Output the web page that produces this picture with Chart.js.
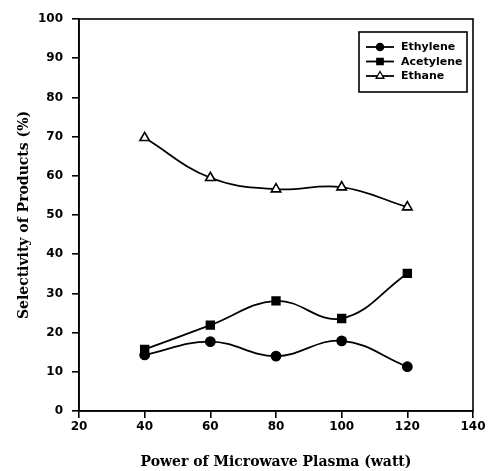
<!DOCTYPE html>
<html>
<head>
<meta charset="utf-8">
<script src="https://cdn.jsdelivr.net/npm/chart.js@4/dist/chart.umd.min.js"></script>
<style>
  html, body { margin: 0; padding: 0; background: #fff; }
  #wrap { width: 488px; height: 471px; }
</style>
</head>
<body>
<div id="wrap"><canvas id="c" width="488" height="471"></canvas></div>
<script>
// Microwave plasma power (watt)
const power = [40, 60, 80, 100, 120];
// Product selectivity (%)
const ethylene  = [14.3, 17.7, 14.0, 17.9, 11.3];
const acetylene = [15.7, 21.9, 28.1, 23.6, 35.1];
const ethane    = [69.7, 59.5, 56.6, 57.1, 52.0];
const seriesNames = ['Ethylene', 'Acetylene', 'Ethane'];
const xTicks = [20, 40, 60, 80, 100, 120, 140];
const yTicks = [0, 10, 20, 30, 40, 50, 60, 70, 80, 90, 100];

const tickFont = { family: 'DejaVu Sans', weight: 'bold', size: 12 };
const titleFont = { family: 'DejaVu Serif', weight: 'bold', size: 14 };

function pts(values) {
  return power.map((p, i) => ({ x: p, y: values[i] }));
}

function series(label, values, style, fill, radius) {
  return {
    label: label,
    data: pts(values),
    borderColor: '#000',
    borderWidth: 1.8,
    tension: 0.4,
    pointStyle: style,
    pointRadius: radius,
    pointBackgroundColor: fill,
    pointBorderColor: '#000',
    pointBorderWidth: 1.6,
    fill: false
  };
}

// Frame around the plotting region
const framePlugin = {
  id: 'frame',
  afterDraw(chart) {
    const { ctx, chartArea: a } = chart;
    ctx.save();
    ctx.strokeStyle = '#000';
    ctx.lineWidth = 1.6;
    ctx.strokeRect(a.left, a.top, a.right - a.left, a.bottom - a.top);
    ctx.restore();
  }
};

// Boxed legend in the upper right corner, showing line + marker per series
const boxLegend = {
  id: 'boxLegend',
  afterDraw(chart) {
    const { ctx, chartArea: a } = chart;
    const w = 108, h = 60;
    const x0 = a.right - 6 - w, y0 = a.top + 13;
    ctx.save();
    ctx.fillStyle = '#fff';
    ctx.fillRect(x0, y0, w, h);
    ctx.strokeStyle = '#000';
    ctx.lineWidth = 1.6;
    ctx.strokeRect(x0, y0, w, h);
    ctx.font = 'bold 11px "DejaVu Sans"';
    ctx.textBaseline = 'middle';
    ctx.textAlign = 'left';
    chart.data.datasets.forEach((ds, i) => {
      const y = y0 + 15 + i * 14.5;
      ctx.beginPath();
      ctx.strokeStyle = '#000';
      ctx.lineWidth = 1.8;
      ctx.moveTo(x0 + 7, y);
      ctx.lineTo(x0 + 35, y);
      ctx.stroke();
      ctx.fillStyle = ds.pointBackgroundColor;
      ctx.strokeStyle = '#000';
      ctx.lineWidth = 1.3;
      Chart.helpers.drawPoint(ctx, {
        pointStyle: ds.pointStyle,
        radius: ds.pointRadius - 1,
        borderWidth: 1.3,
        rotation: 0
      }, x0 + 21, y);
      ctx.fillStyle = '#000';
      ctx.fillText(ds.label, x0 + 42, y + 0.5);
    });
    ctx.restore();
  }
};

new Chart(document.getElementById('c'), {
  type: 'line',
  data: {
    datasets: [
      series(seriesNames[0], ethylene, 'circle', '#000', 4.6),
      series(seriesNames[1], acetylene, 'rect', '#000', 5.5),
      series(seriesNames[2], ethane, 'triangle', '#fff', 5.5)
    ]
  },
  options: {
    responsive: false,
    animation: false,
    layout: { padding: { top: 19, right: 15, left: 0, bottom: 0 } },
    plugins: { legend: { display: false }, tooltip: { enabled: false } },
    scales: {
      x: {
        type: 'linear',
        min: 20, max: 140,
        afterFit(s) { s.height = 60; },
        afterBuildTicks(s) { s.ticks = xTicks.map(v => ({ value: v })); },
        ticks: { font: tickFont, color: '#000', padding: 2, maxRotation: 0 },
        grid: { drawOnChartArea: false, drawTicks: true, tickLength: 7, color: '#000', lineWidth: 1.6 },
        border: { display: true, color: '#000', width: 1.6 },
        title: { display: true, text: 'Power of Microwave Plasma (watt)', font: titleFont, color: '#000', padding: { top: 0, bottom: 0 } }
      },
      y: {
        type: 'linear',
        min: 0, max: 100,
        afterFit(s) { s.width = 79; },
        afterBuildTicks(s) { s.ticks = yTicks.map(v => ({ value: v })); },
        ticks: { font: tickFont, color: '#000', padding: 9 },
        grid: { drawOnChartArea: false, drawTicks: true, tickLength: 7, color: '#000', lineWidth: 1.6 },
        border: { display: true, color: '#000', width: 1.6 },
        title: { display: true, text: 'Selectivity of Products (%)', font: titleFont, color: '#000', padding: { top: 16, bottom: 0 } }
      }
    }
  },
  plugins: [framePlugin, boxLegend]
});
</script>
</body>
</html>
